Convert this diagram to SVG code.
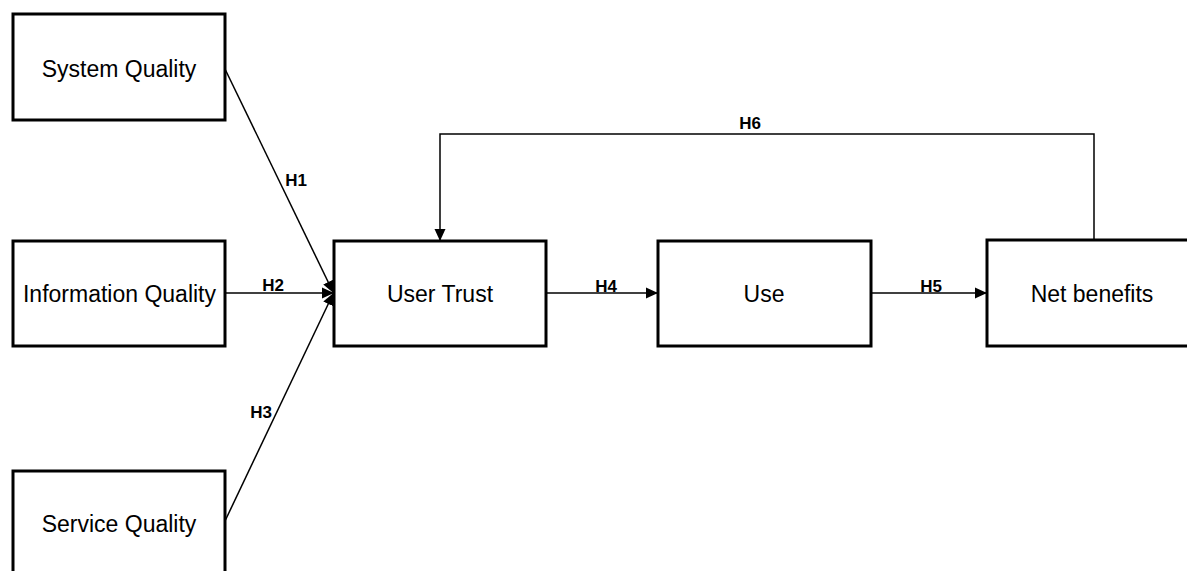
<svg xmlns="http://www.w3.org/2000/svg" width="1187" height="571" viewBox="0 0 1187 571">
<style>
.box{fill:#fff;stroke:#000;stroke-width:3}
.lbl{font-family:"Liberation Sans",Arial,sans-serif;font-size:23px;fill:#000;text-anchor:middle}
.h{font-family:"Liberation Sans",Arial,sans-serif;font-size:17px;font-weight:bold;fill:#000;text-anchor:middle}
.c{fill:none;stroke:#000;stroke-width:1.5}
</style>
<defs>
<marker id="arr" markerWidth="12" markerHeight="12" refX="11" refY="6" orient="auto" markerUnits="userSpaceOnUse">
<path d="M0,0.5 L12,6 L0,11.5 Z" fill="#000"/>
</marker>
</defs>
<rect width="1187" height="571" fill="#fff"/>
<g id="connectors">
<line class="c" x1="225" y1="69" x2="333" y2="292" marker-end="url(#arr)"/>
<line class="c" x1="225" y1="293" x2="333" y2="293" marker-end="url(#arr)"/>
<line class="c" x1="225" y1="521" x2="333" y2="294" marker-end="url(#arr)"/>
<line class="c" x1="546" y1="293" x2="657" y2="293" marker-end="url(#arr)"/>
<line class="c" x1="871" y1="293" x2="986" y2="293" marker-end="url(#arr)"/>
<polyline class="c" points="1094,240 1094,134 440,134 440,240" marker-end="url(#arr)"/>
<text class="h" x="296" y="186">H1</text>
<text class="h" x="273" y="291">H2</text>
<text class="h" x="261" y="418">H3</text>
<text class="h" x="606" y="292">H4</text>
<text class="h" x="931" y="292">H5</text>
<text class="h" x="750" y="129">H6</text>
</g>
<g id="system-quality"><rect class="box" x="13" y="14" width="212" height="106"/><text class="lbl" x="119" y="77">System Quality</text></g>
<g id="information-quality"><rect class="box" x="13" y="241" width="212" height="105"/><text class="lbl" x="119.5" y="302">Information Quality</text></g>
<g id="service-quality"><rect class="box" x="13" y="471" width="212" height="106"/><text class="lbl" x="119" y="532">Service Quality</text></g>
<g id="user-trust"><rect class="box" x="334" y="241" width="212" height="105"/><text class="lbl" x="440" y="302">User Trust</text></g>
<g id="use"><rect class="box" x="658" y="241" width="213" height="105"/><text class="lbl" x="764" y="302">Use</text></g>
<g id="net-benefits"><rect class="box" x="987" y="240" width="212" height="106"/><text class="lbl" x="1092" y="302">Net benefits</text></g>
</svg>
